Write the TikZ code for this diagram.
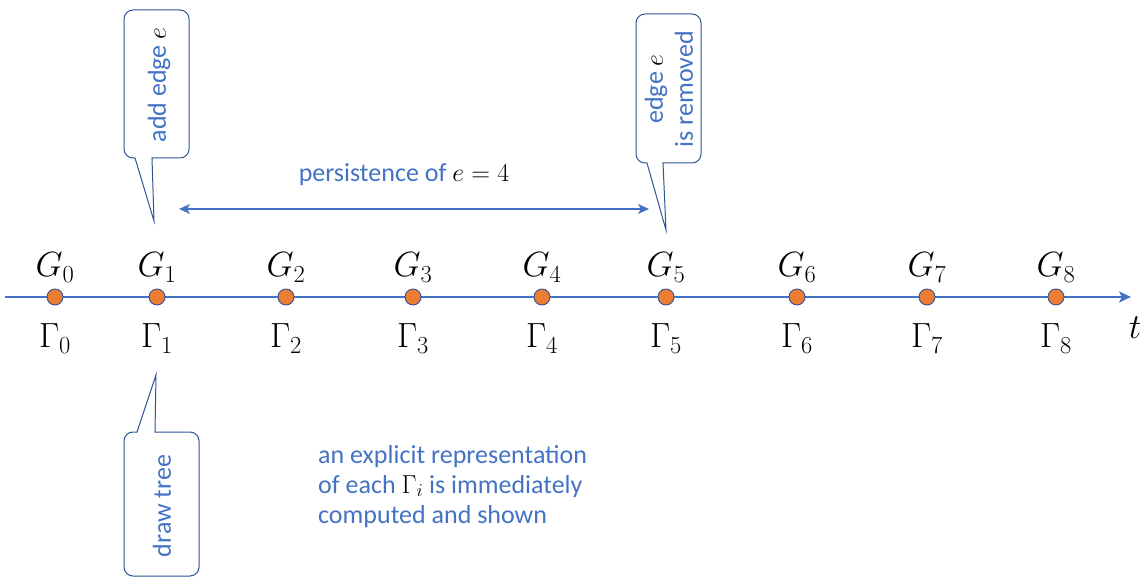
\documentclass[tikz,border=0pt]{standalone}
\usepackage{fix-cm}
\usepackage{fontspec}
\setmainfont{Carlito}
\usetikzlibrary{arrows.meta}
\definecolor{oblue}{HTML}{4472C4}
\definecolor{dblue}{HTML}{2F5597}
\definecolor{oorange}{HTML}{ED7D31}
\begin{document}
\begin{tikzpicture}[x=1pt,y=-1pt,
  dot/.style={circle,draw=dblue,line width=0.9pt,fill=oorange,minimum size=16pt,inner sep=0pt},
  glab/.style={anchor=base,inner sep=0pt,font=\fontsize{35}{40}\selectfont},
  btxt/.style={text=oblue,font=\fontsize{26}{30}\selectfont,inner sep=0pt},
  callout/.style={draw=dblue,line width=1pt,fill=white},
  axis/.style={draw=oblue,line width=1.8pt},
  tip/.style={-{Stealth[length=12pt,width=11pt,inset=3pt]}}
]
\useasboundingbox (0,0) rectangle (1146,577);
% axis
\coordinate (a0) at (5,297);
\coordinate (a1) at (1131,297);
\draw[axis,tip] (a0) -- (a1);
\foreach \x [count=\i from 0] in {55,157,286,413,542,666,797,927,1056}{
  \node[dot] (d\i) at (\x,297) {};
  \node[glab] (g\i) at (\x,277) {$G_{\i}$};
  \node[glab] (h\i) at (\x,348) {$\Gamma_{\i}$};
}
\node[glab] (t) at (1135,338) {$t$};
% persistence arrow
\coordinate (p0) at (179,209);
\coordinate (p1) at (649,209);
\draw[draw=oblue,line width=1.6pt,{Stealth[length=11pt,width=10pt,inset=3pt]}-{Stealth[length=11pt,width=10pt,inset=3pt]}] (p0) -- (p1);
\node[btxt,anchor=base] (pl) at (404,182) {persistence of \textcolor{black}{$e=4$}};
% callout add edge
\draw[callout] (135,158) -- (154,221) -- (152,158) [rounded corners=9pt] -- (189,158) -- (189,10) -- (124,10) -- (124,158) [sharp corners] -- cycle;
\node[btxt,rotate=90] (c1) at (159,85) {add edge \textcolor{black}{$e$}};
% callout edge removed
\draw[callout] (647,163) -- (666,230) -- (663,163) [rounded corners=9pt] -- (701,163) -- (701,14) -- (636,14) -- (636,163) [sharp corners] -- cycle;
\node[btxt,rotate=90,align=center] (c2) at (669,89) {edge \textcolor{black}{$e$}\\is removed};
% callout draw tree
\draw[callout] (137,432) -- (156,375) -- (155,432) [rounded corners=9pt] -- (199,432) -- (199,576) -- (124,576) -- (124,432) [sharp corners] -- cycle;
\node[btxt,rotate=90] (c3) at (162,506) {draw tree};
% text block
\node[btxt,anchor=base west] (l1) at (318,463) {an explicit representation};
\node[btxt,anchor=base west] (l2) at (318,493) {of each \textcolor{black}{$\Gamma_i$} is immediately};
\node[btxt,anchor=base west] (l3) at (318,523) {computed and shown};
\end{tikzpicture}
\end{document}
